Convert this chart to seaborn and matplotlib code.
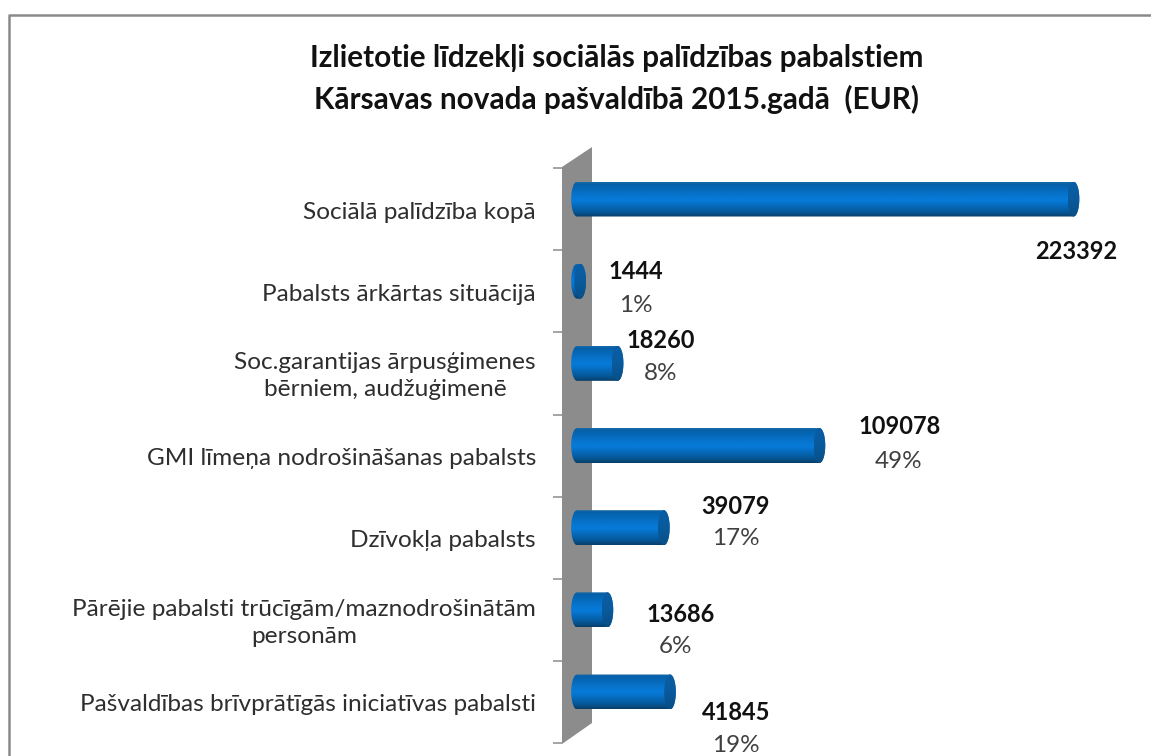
import numpy as np
import pandas as pd
import matplotlib
matplotlib.use('Agg')
import matplotlib.pyplot as plt
from matplotlib.colors import LinearSegmentedColormap
from matplotlib.lines import Line2D
from matplotlib.patches import Polygon
import seaborn as sns

# Data
categories = [
    'Sociālā palīdzība kopā',
    'Pabalsts ārkārtas situācijā',
    'Soc.garantijas ārpusģimenes\nbērniem, audžuģimenē',
    'GMI līmeņa nodrošināšanas pabalsts',
    'Dzīvokļa pabalsts',
    'Pārējie pabalsti trūcīgām/maznodrošinātām\npersonām',
    'Pašvaldības brīvprātīgās iniciatīvas pabalsti',
]
values = [223392, 1444, 18260, 109078, 39079, 13686, 41845]
percents = ['', '1%', '8%', '49%', '17%', '6%', '19%']
title = 'Izlietotie līdzekļi sociālās palīdzības pabalstiem\nKārsavas novada pašvaldībā 2015.gadā  (EUR)'

# label placement, pixels from the end of each bar
value_offsets = [(3, 52), (56, -10), (43, -23), (80, -19), (72, -21), (73, 5), (66, 21)]
percent_offsets = [(0, 0), (56, 24), (43, 10), (79, 16), (72, 11), (68, 37), (66, 54)]

W, H = 1151, 756
FONT = 'Lato'


def fx(px):
    return px / W


def fy(py):
    return 1 - py / H


sns.set_theme(style='white')
plt.rcParams['font.family'] = [FONT, 'DejaVu Sans']

fig = plt.figure(figsize=(W / 100, H / 100), dpi=100, facecolor='white')

# Chart frame, only top and left are in the crop
fig.add_artist(Line2D([fx(9), fx(9), fx(W)], [fy(H), fy(14.5), fy(14.5)],
                      color='#8a8a8a', lw=1.8, transform=fig.transFigure, zorder=-2))

# Grey 3D wall behind the bars
fig.add_artist(Polygon([(fx(562), fy(167)), (fx(592), fy(147)), (fx(592), fy(723)), (fx(562), fy(744))],
                       closed=True, facecolor='#8c8c8c', edgecolor='none',
                       transform=fig.transFigure, zorder=-1))

ax = fig.add_axes([fx(577), fy(744), fx(1073.5) - fx(577), fy(147) - fy(744)])
ax.patch.set_alpha(0)

df = pd.DataFrame({'category': categories, 'value': values})
sns.barplot(data=df, x='value', y='category', orient='h', width=35 / 82.17,
            color='#0570c4', saturation=1, ax=ax)

ax.set_xlim(0, max(values))
ax.set_ylim(6.633, -0.633)
ax.set_xlabel('')
ax.set_ylabel('')
ax.set_xticks([])

# Tick marks sit between the categories on the wall edge, not on the bars
ax.spines[['top', 'right', 'bottom']].set_visible(False)
ax.spines['left'].set_visible(False)
ax.spines['left'].set_position(('outward', 15 * 0.72))
ax.set_yticks([i - 0.377 for i in range(8)])
ax.set_yticklabels([])
ax.tick_params(axis='y', left=True, length=9 * 0.72, width=1.1, color='#8c8c8c')

body_cmap = LinearSegmentedColormap.from_list('body', [
    (0.0, '#1a6aa6'), (0.06, '#0560a8'), (0.45, '#0779d6'), (0.55, '#0779d6'),
    (0.85, '#05589a'), (1.0, '#0a3f68')])
cap_cmap = LinearSegmentedColormap.from_list('cap', ['#0a5ea6', '#0a5a9c', '#084f86'])
gradient = np.linspace(0, 1, 128).reshape(-1, 1)

px_per_unit = (1073.5 - 577) / max(values)
cap_w = 5.8 / px_per_unit
t = np.linspace(-np.pi / 2, np.pi / 2, 40)

for bar in ax.patches:
    x0, x1 = bar.get_x(), bar.get_x() + bar.get_width()
    y0, y1 = bar.get_y(), bar.get_y() + bar.get_height()
    yc, ry = (y0 + y1) / 2, (y1 - y0) / 2
    bar.set_facecolor('none')
    bar.set_edgecolor('none')

    # body: rounded both ends
    right = np.column_stack([x1 + cap_w * np.cos(t), yc + ry * np.sin(t)])
    left = np.column_stack([x0 - cap_w * np.cos(t[::-1]), yc + ry * np.sin(t[::-1])])
    outline = Polygon(np.vstack([right, left]), closed=True, transform=ax.transData,
                      facecolor='none', edgecolor='none', clip_on=False)
    ax.add_patch(outline)
    im = ax.imshow(gradient, cmap=body_cmap, aspect='auto', zorder=3,
                   extent=(x0 - cap_w, x1 + cap_w, y1, y0))
    im.set_clip_box(fig.bbox)
    im.set_clip_path(outline)

    # darker end cap
    th = np.linspace(0, 2 * np.pi, 80)
    cap = Polygon(np.column_stack([x1 + cap_w * np.cos(th), yc + ry * np.sin(th)]), closed=True,
                  transform=ax.transData, facecolor='none', edgecolor='none', clip_on=False)
    ax.add_patch(cap)
    im2 = ax.imshow(gradient, cmap=cap_cmap, aspect='auto', zorder=4,
                    extent=(x1 - cap_w, x1 + cap_w, y1, y0))
    im2.set_clip_box(fig.bbox)
    im2.set_clip_path(cap)

ax.set_xlim(0, max(values))
ax.set_ylim(6.633, -0.633)

# Category labels, right aligned left of the wall
for i, name in enumerate(categories):
    ax.annotate(name, (0, i), xytext=(-41, -13), textcoords='offset pixels',
                ha='right', va='center', multialignment='center', linespacing=1.35,
                fontsize=17.6, color='#2e2e2e', annotation_clip=False)

# Value and percent labels
for i, v in enumerate(values):
    ax.annotate(str(v), (v, i), xytext=(value_offsets[i][0], -value_offsets[i][1]),
                textcoords='offset pixels', ha='center', va='center',
                fontsize=17, fontweight='bold', color='#111111', annotation_clip=False)
    if percents[i]:
        ax.annotate(percents[i], (v, i), xytext=(percent_offsets[i][0], -percent_offsets[i][1]),
                    textcoords='offset pixels', ha='center', va='center',
                    fontsize=17.5, color='#404040', annotation_clip=False)

fig.text(fx(617), fy(79), title, ha='center', va='center', fontsize=21.4, fontweight='bold',
         color='#111111', linespacing=1.5)

fig.savefig('out.png', dpi=100)
